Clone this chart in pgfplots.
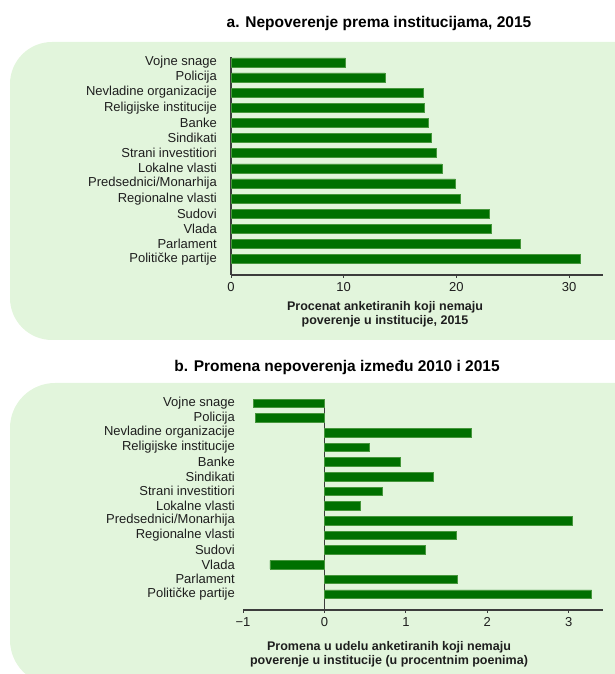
\documentclass[border=0pt]{standalone}
\usepackage{fontspec}
\setmainfont{Liberation Sans}
\usepackage{pgfplots}
\pgfplotsset{compat=1.18}

\definecolor{panel}{RGB}{226,245,220}
\definecolor{barfill}{RGB}{0,112,0}
\definecolor{barline}{RGB}{70,150,60}
\definecolor{axline}{RGB}{60,60,60}
\definecolor{txt}{RGB}{30,30,30}

\pgfplotsset{
  inst/.style={
    scale only axis,
    ytick={0,...,13},
    yticklabels={Političke partije, Parlament, Vlada, Sudovi, Regionalne vlasti,
      Predsednici/Monarhija, Lokalne vlasti, Strani investitiori, Sindikati, Banke,
      Religijske institucije, Nevladine organizacije, Policija, Vojne snage},
    axis x line=bottom, axis y line=left,
    axis line style={-, draw=axline, line width=1.1bp},
    tick align=outside,
    major tick length=3bp,
    ytick style={draw=none},
    xtick style={draw=axline, line width=1bp},
    tick label style={font=\fontsize{13bp}{15bp}\selectfont, text=txt},
    yticklabel style={inner sep=0pt},
    xticklabel style={yshift=-1bp},
    /pgf/number format/assume math mode=true,
  },
  bars/.style={xbar, fill=barfill, draw=barline, line width=0.5bp},
}

\begin{document}
\begin{tikzpicture}
\useasboundingbox (0,0) rectangle (615bp,674bp);
\begin{scope}
  \clip (0,0) rectangle (615bp,674bp);
  \fill[panel, rounded corners=42bp] (10bp,334bp) rectangle (660bp,632bp);
  \fill[panel, rounded corners=45bp] (10bp,-11bp) rectangle (660bp,291bp);
\end{scope}

\node[anchor=base, font=\bfseries\fontsize{15.5bp}{18bp}\selectfont, text=black]
  at (379bp,646.8bp) {a. Nepoverenje prema institucijama, 2015};
\node[anchor=base, font=\bfseries\fontsize{15.5bp}{18bp}\selectfont, text=black]
  at (337bp,302.5bp) {b. Promena nepoverenja između 2010 i 2015};

% a. share distrusting each institution, 2015
\begin{axis}[inst,
  at={(231bp,399bp)}, anchor=south west,
  width=372bp, height=218bp,
  xmin=0, xmax=33, ymin=-1.04, ymax=13.35,
  xtick={0,10,20,30},
  yticklabel style={xshift=-11bp},
]
\addplot[bars, bar width=9bp] coordinates {
  (31.0,0) (25.7,1) (23.1,2) (22.9,3) (20.35,4) (19.9,5) (18.7,6)
  (18.25,7) (17.8,8) (17.5,9) (17.1,10) (17.05,11) (13.65,12) (10.15,13)
};
\end{axis}

\node[anchor=base, font=\bfseries\fontsize{12.5bp}{14bp}\selectfont, text=txt]
  at (385bp,363bp) {Procenat anketiranih koji nemaju};
\node[anchor=base, font=\bfseries\fontsize{12.5bp}{14bp}\selectfont, text=txt]
  at (385bp,349.5bp) {poverenje u institucije, 2015};

% b. change 2010-2015, percentage points
\begin{axis}[inst,
  at={(243bp,64bp)}, anchor=south west,
  width=360bp, height=211bp,
  xmin=-1, xmax=3.42, ymin=-1.09, ymax=13.29,
  xtick={-1,0,1,2,3},
  xticklabels={−1,0,1,2,3},
  y axis line style={draw=none},
  extra x ticks={0}, extra x tick labels={},
  extra x tick style={grid=major, major grid style={draw=axline, line width=1bp}},
  yticklabel style={xshift=-5bp},
]
\addplot[bars, bar width=8.5bp] coordinates {
  (3.28,0) (1.63,1) (-0.67,2) (1.24,3) (1.62,4) (3.04,5) (0.44,6)
  (0.71,7) (1.34,8) (0.93,9) (0.55,10) (1.80,11) (-0.85,12) (-0.87,13)
};
\end{axis}

\node[anchor=base, font=\bfseries\fontsize{12.5bp}{14bp}\selectfont, text=txt]
  at (389bp,23.8bp) {Promena u udelu anketiranih koji nemaju};
\node[anchor=base, font=\bfseries\fontsize{12.5bp}{14bp}\selectfont, text=txt]
  at (389bp,9.5bp) {poverenje u institucije (u procentnim poenima)};
\end{tikzpicture}
\end{document}
